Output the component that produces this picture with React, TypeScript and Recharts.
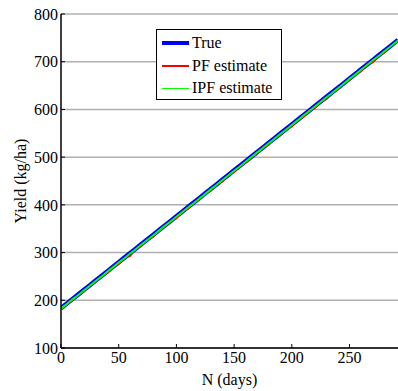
import React from 'react';
import { LineChart, Line, XAxis, YAxis, CartesianGrid, Legend } from 'recharts';

const days = [0, 5, 10, 15, 20, 25, 30, 35, 40, 45, 50, 55, 60, 65, 70, 75, 80, 85, 90, 95, 100, 105, 110, 115, 120, 125, 130, 135, 140, 145, 150, 155, 160, 165, 170, 175, 180, 185, 190, 195, 200, 205, 210, 215, 220, 225, 230, 235, 240, 245, 250, 255, 260, 265, 270, 275, 280, 285, 292];

const trueYield = [183.5, 193.1, 202.8, 212.4, 222, 231.6, 241.3, 250.9, 260.5, 270.1, 279.8, 289.4, 299, 308.6, 318.3, 327.9, 337.5, 347.1, 356.8, 366.4, 376, 385.6, 395.3, 404.9, 414.5, 424.1, 433.8, 443.4, 453, 462.6, 472.3, 481.9, 491.5, 501.1, 510.8, 520.4, 530, 539.6, 549.3, 558.9, 568.5, 578.1, 587.8, 597.4, 607, 616.6, 626.3, 635.9, 645.5, 655.1, 664.8, 674.4, 684, 693.6, 703.3, 712.9, 722.5, 732.1, 745.5];

const pfYield = [181, 191, 199, 212, 218, 231, 237, 250, 256, 270, 275, 289, 292, 308, 313, 328, 332, 348, 353, 366, 371, 386, 391, 405, 410, 424, 429, 443, 448, 463, 468, 482, 487, 501, 505, 521, 525, 540, 545, 559, 563, 578, 583, 598, 602, 617, 621, 636, 641, 655, 660, 675, 679, 694, 698, 713, 718, 732, 742];

const ipfYield = [182.5, 192, 202, 211, 221, 230.5, 240.5, 249.5, 259.5, 269, 279, 288, 298, 307.5, 317.5, 326.5, 336.5, 346, 356, 365, 375, 384.5, 394.5, 403.5, 413.5, 423, 433, 442, 452, 461.5, 471.5, 480.5, 490.5, 500, 510, 519, 529, 538.5, 548.5, 557.5, 567.5, 577, 587, 596, 606, 615.5, 625.5, 634.5, 644.5, 654, 664, 673, 683, 692.5, 702.5, 711.5, 721.5, 731, 744.5];

const xTicks = [0, 50, 100, 150, 200, 250];
const yTicks = [100, 200, 300, 400, 500, 600, 700, 800];

const seriesNames = ['True', 'PF estimate', 'IPF estimate'];
const seriesColors = ['#0000ff', '#ff0000', '#00ff00'];
const seriesWidths = [4.5, 1.2, 2];
const legendWidths = [4, 1.5, 1.5];

const toPoints = (ys: number[]) => days.map((d, i) => ({ day: d, y: ys[i] }));
const trueData = toPoints(trueYield);
const pfData = toPoints(pfYield);
const ipfData = toPoints(ipfYield);

const FONT = "'Liberation Serif', 'Times New Roman', serif";

const LegendBox = () => (
  <div
    style={{
      width: 126,
      height: 71,
      boxSizing: 'border-box',
      border: '1.5px solid #000',
      background: '#fff',
      fontFamily: FONT,
      fontSize: 16,
      color: '#000',
      paddingTop: 2,
    }}
  >
    {seriesNames.map((n, i) => (
      <div key={n} style={{ display: 'flex', alignItems: 'center', height: 22.5 }}>
        <div style={{ width: 27, height: legendWidths[i], background: seriesColors[i], marginLeft: 5, marginRight: 3 }} />
        <span style={{ lineHeight: '16px' }}>{n}</span>
      </div>
    ))}
  </div>
);

const tickStyle = { fill: '#000', fontSize: 16, fontFamily: FONT, style: { fontFamily: FONT } };

export default function App() {
  return (
    <div style={{ position: 'absolute', left: 0, top: 0, fontFamily: FONT }}>
      <LineChart width={398} height={391} margin={{ top: 14, right: 0, bottom: 0, left: 0 }} style={{ fontFamily: FONT }}>
        <CartesianGrid horizontal={true} vertical={false} stroke="#b0b0b0" strokeWidth={1.5} horizontalValues={yTicks} />
        <CartesianGrid horizontal={false} vertical={true} stroke="#606060" strokeWidth={1} verticalValues={xTicks} />
        <XAxis
          xAxisId="bottom"
          dataKey="day"
          type="number"
          domain={[0, 292]}
          ticks={xTicks}
          allowDataOverflow
          height={43}
          tickSize={-4}
          tickMargin={8}
          tick={tickStyle}
          tickLine={{ stroke: '#000' }}
          axisLine={{ stroke: '#000', strokeWidth: 1.5 }}
          label={({ viewBox }: any) => (
            <text x={viewBox.x + viewBox.width / 2} y={viewBox.y + 37} textAnchor="middle" fontSize={16} style={{ fontFamily: FONT }} fill="#000">
              N (days)
            </text>
          )}
        />
        <XAxis
          xAxisId="top"
          orientation="top"
          dataKey="day"
          type="number"
          domain={[0, 292]}
          ticks={xTicks}
          allowDataOverflow
          height={0}
          tickSize={-4}
          tickFormatter={() => ''}
          tickLine={{ stroke: '#000' }}
          axisLine={{ stroke: '#333', strokeWidth: 2 }}
        />
        <YAxis
          type="number"
          domain={[100, 800]}
          ticks={yTicks}
          allowDataOverflow
          width={61}
          tickSize={-4}
          tickMargin={7}
          tick={tickStyle}
          tickLine={{ stroke: '#000' }}
          axisLine={{ stroke: '#000', strokeWidth: 1.5 }}
          label={({ viewBox }: any) => {
            const cx = viewBox.x + 20;
            const cy = viewBox.y + viewBox.height / 2;
            return (
              <text x={cx} y={cy} transform={`rotate(-90 ${cx} ${cy})`} textAnchor="middle" dominantBaseline="central" fontSize={16} style={{ fontFamily: FONT }} fill="#000">
                Yield (kg/ha)
              </text>
            );
          }}
        />
        <Legend
          layout="vertical"
          align="center"
          verticalAlign="middle"
          wrapperStyle={{ left: 156, top: 29, width: 126 }}
          content={() => <LegendBox />}
        />
        <Line xAxisId="bottom" data={trueData} dataKey="y" name="True" stroke={seriesColors[0]} strokeWidth={seriesWidths[0]} dot={false} isAnimationActive={false} />
        <Line xAxisId="bottom" data={pfData} dataKey="y" name="PF estimate" stroke={seriesColors[1]} strokeWidth={seriesWidths[1]} dot={false} isAnimationActive={false} />
        <Line xAxisId="bottom" data={ipfData} dataKey="y" name="IPF estimate" stroke={seriesColors[2]} strokeWidth={seriesWidths[2]} dot={false} isAnimationActive={false} />
      </LineChart>
    </div>
  );
}
